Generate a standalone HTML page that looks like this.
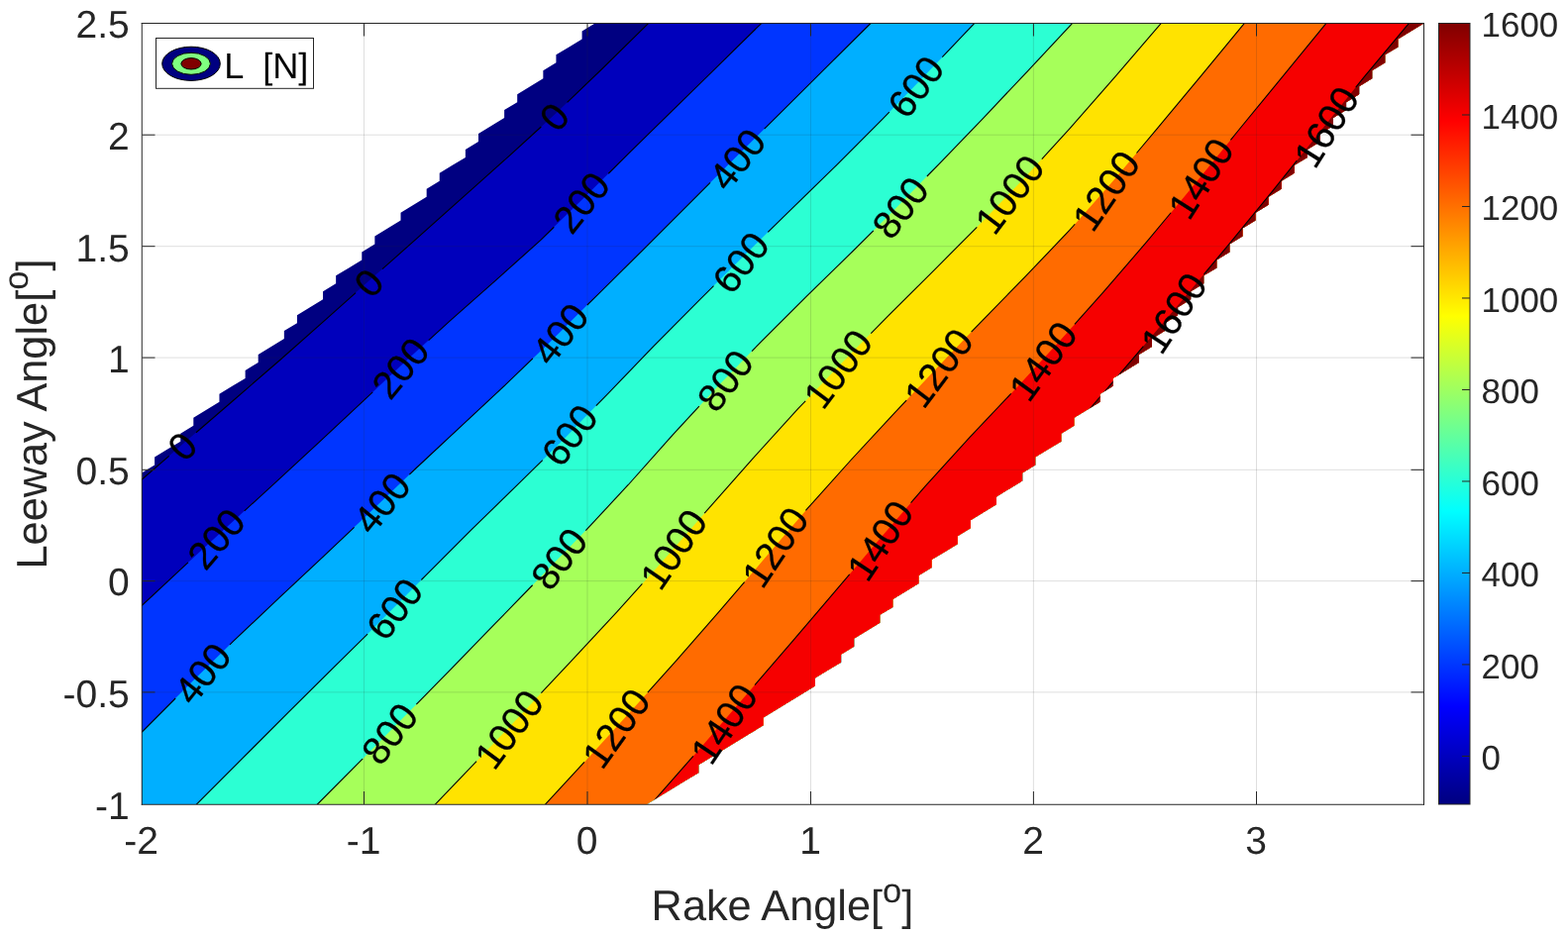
<!DOCTYPE html>
<html lang="en"><head><meta charset="utf-8"><title>L [N] contour</title>
<style>html,body{margin:0;padding:0;background:#fff;}body{width:1583px;height:945px;overflow:hidden;}svg{display:block;}</style></head>
<body>
<svg width="1583" height="945" viewBox="0 0 1583 945" font-family='"Liberation Sans", sans-serif' text-rendering="geometricPrecision">
<rect x="0" y="0" width="1583" height="945" fill="#fff"/>
<defs>
<clipPath id="valid"><polygon points="143.00,812.00 143.00,477.48 156.08,469.52 156.08,461.56 169.15,453.59 182.23,445.63 182.23,437.66 195.30,429.70 195.30,421.73 208.38,413.77 221.45,405.80 221.45,397.84 234.53,389.87 247.61,381.91 247.61,373.94 260.68,365.98 260.68,358.02 273.76,350.05 286.83,342.09 286.83,334.12 299.91,326.16 299.91,318.19 312.98,310.23 326.06,302.26 326.06,294.30 339.14,286.33 339.14,278.37 352.21,270.40 365.29,262.44 365.29,254.47 378.36,246.51 378.36,238.55 391.44,230.58 404.52,222.62 404.52,214.65 417.59,206.69 430.67,198.72 430.67,190.76 443.74,182.79 443.74,174.83 456.82,166.86 469.89,158.90 469.89,150.93 482.97,142.97 482.97,135.01 496.05,127.04 509.12,119.08 509.12,111.11 522.20,103.15 522.20,95.18 535.27,87.22 548.35,79.25 548.35,71.29 561.42,63.32 561.42,55.36 574.50,47.39 587.58,39.43 587.58,31.46 600.65,23.50 1437.50,23.50 1424.42,31.46 1411.35,39.43 1411.35,47.39 1398.27,55.36 1398.27,63.32 1385.20,71.29 1385.20,79.25 1372.12,87.22 1372.12,95.18 1359.05,103.15 1359.05,111.11 1345.97,119.08 1345.97,127.04 1332.89,135.01 1332.89,142.97 1319.82,150.93 1319.82,158.90 1306.74,166.86 1306.74,174.83 1293.67,182.79 1293.67,190.76 1280.59,198.72 1280.59,206.69 1267.52,214.65 1267.52,222.62 1254.44,230.58 1254.44,238.55 1241.36,246.51 1241.36,254.47 1228.29,262.44 1228.29,270.40 1215.21,278.37 1215.21,286.33 1202.14,294.30 1202.14,302.26 1189.06,310.23 1189.06,318.19 1175.98,326.16 1175.98,334.12 1162.91,342.09 1162.91,350.05 1149.83,358.02 1149.83,365.98 1136.76,373.94 1123.68,381.91 1123.68,389.87 1110.61,397.84 1110.61,405.80 1097.53,413.77 1084.45,421.73 1084.45,429.70 1071.38,437.66 1071.38,445.63 1058.30,453.59 1045.23,461.56 1045.23,469.52 1032.15,477.48 1032.15,485.45 1019.08,493.41 1006.00,501.38 1006.00,509.34 992.92,517.31 979.85,525.27 979.85,533.24 966.77,541.20 966.77,549.17 953.70,557.13 940.62,565.10 940.62,573.06 927.55,581.03 927.55,588.99 914.47,596.95 901.39,604.92 901.39,612.88 888.32,620.85 888.32,628.81 875.24,636.78 862.17,644.74 862.17,652.71 849.09,660.67 849.09,668.64 836.02,676.60 822.94,684.57 822.94,692.53 809.86,700.49 796.79,708.46 783.71,716.42 770.64,724.39 770.64,732.35 757.56,740.32 744.48,748.28 731.41,756.25 718.33,764.21 705.26,772.18 705.26,780.14 692.18,788.11 679.11,796.07 666.03,804.04 652.95,812.00"/></clipPath>
<linearGradient id="jet" x1="0" y1="1" x2="0" y2="0">
<stop offset="0" stop-color="#000080"/>
<stop offset="0.125" stop-color="#0000ff"/>
<stop offset="0.375" stop-color="#00ffff"/>
<stop offset="0.625" stop-color="#ffff00"/>
<stop offset="0.875" stop-color="#ff0000"/>
<stop offset="1" stop-color="#800000"/>
</linearGradient>
</defs>
<g clip-path="url(#valid)" shape-rendering="geometricPrecision">
<rect x="143.5" y="23.5" width="1294.0" height="788.5" fill="#000081"/>
<polygon points="97.91,523.23 143.30,483.99 189.75,443.83 236.21,403.78 282.66,363.48 329.12,322.33 375.57,280.85 422.03,239.66 468.48,198.04 514.94,156.70 561.39,114.21 607.85,69.49 654.30,23.80 697.07,-18.28 2000.00,-18.28 2000.00,1200.00 97.91,1200.00" fill="#0000bc"/>
<polygon points="99.35,652.07 143.30,611.23 187.97,569.72 232.64,528.73 277.31,487.84 321.99,446.58 366.66,404.96 411.33,362.97 456.00,322.34 500.67,282.90 545.34,242.85 590.01,199.34 634.69,154.91 679.36,111.15 724.03,67.37 768.70,23.52 811.52,-18.51 2000.00,-18.51 2000.00,1200.00 99.35,1200.00" fill="#0035ff"/>
<polygon points="101.01,781.63 143.30,739.07 189.28,692.80 235.26,647.70 281.24,604.16 327.23,561.12 373.21,517.55 419.19,473.49 465.17,430.64 511.15,387.72 557.13,343.42 603.11,297.80 649.09,252.32 695.08,206.29 741.06,160.46 787.04,114.86 833.02,69.20 879.00,23.51 921.56,-18.78 2000.00,-18.78 2000.00,1200.00 101.01,1200.00" fill="#00afff"/>
<polygon points="156.22,854.33 198.60,811.85 244.76,765.58 290.93,719.48 337.09,673.73 383.26,628.09 429.42,581.39 475.59,535.15 521.75,490.08 567.92,444.66 614.08,397.02 660.25,349.09 706.41,302.57 752.58,256.66 798.74,211.35 844.91,166.38 891.07,120.15 937.24,72.39 983.40,23.98 1024.81,-19.44 2000.00,-19.44 2000.00,1200.00 156.22,1200.00" fill="#2cffd3"/>
<polygon points="278.17,854.53 320.50,812.00 365.32,766.97 410.15,721.60 454.97,675.95 499.79,629.71 544.62,583.57 589.44,537.55 634.26,489.50 679.09,439.20 723.91,390.65 768.74,344.54 813.56,299.89 858.38,256.20 903.21,211.53 948.03,165.51 992.85,119.01 1037.68,71.57 1082.50,23.64 1123.48,-20.18 2000.00,-20.18 2000.00,1200.00 278.17,1200.00" fill="#a6ff5a"/>
<polygon points="397.84,855.37 439.40,812.10 485.18,764.44 530.96,716.18 576.74,667.37 622.52,618.17 668.31,567.37 714.09,514.89 759.87,463.04 805.65,412.72 851.43,364.70 897.21,318.37 942.99,272.81 988.78,226.85 1034.56,179.36 1080.34,129.36 1126.12,77.15 1171.90,23.83 1210.99,-21.69 2000.00,-21.69 2000.00,1200.00 397.84,1200.00" fill="#ffe300"/>
<polygon points="509.76,856.16 550.50,812.11 594.61,764.42 638.71,716.09 682.82,666.92 726.92,616.45 771.03,564.85 815.14,513.46 859.24,464.25 903.35,416.57 947.46,369.65 991.56,323.76 1035.67,278.69 1079.78,232.44 1123.88,182.54 1167.99,130.16 1212.09,77.09 1256.20,23.63 1294.39,-22.65 2000.00,-22.65 2000.00,1200.00 509.76,1200.00" fill="#ff6b00"/>
<polygon points="624.14,849.43 663.80,804.41 708.81,753.32 753.83,701.03 798.84,648.77 843.85,596.05 888.87,543.24 933.88,491.16 978.89,441.54 1023.91,394.06 1068.92,345.33 1113.93,294.97 1158.95,242.66 1203.96,188.49 1248.97,133.25 1293.99,78.28 1339.00,23.46 1377.07,-22.91 2000.00,-22.91 2000.00,1200.00 624.14,1200.00" fill="#f60000"/>
<polygon points="1062.83,456.29 1101.90,410.76 1147.76,357.32 1193.61,303.07 1239.47,248.09 1285.33,192.17 1331.19,134.84 1377.04,77.82 1422.90,22.88 1461.35,-23.18 2000.00,-23.18 2000.00,1200.00 1062.83,1200.00" fill="#800000"/>
<polyline points="120.61,503.61 143.30,483.99 189.75,443.83 236.21,403.78 282.66,363.48 329.12,322.33 375.57,280.85 422.03,239.66 468.48,198.04 514.94,156.70 561.39,114.21 607.85,69.49 654.30,23.80 675.69,2.76" fill="none" stroke="#000" stroke-width="1.1" stroke-dasharray="66.20 36.00 214.26 36.00 215.29 36.00 154.07 0.00"/>
<polyline points="121.32,631.65 143.30,611.23 187.97,569.72 232.64,528.73 277.31,487.84 321.99,446.58 366.66,404.96 411.33,362.97 456.00,322.34 500.67,282.90 545.34,242.85 590.01,199.34 634.69,154.91 679.36,111.15 724.03,67.37 768.70,23.52 790.11,2.50" fill="none" stroke="#000" stroke-width="1.1" stroke-dasharray="93.64 77.00 176.55 77.00 170.63 77.00 256.53 0.00"/>
<polyline points="122.15,760.35 143.30,739.07 189.28,692.80 235.26,647.70 281.24,604.16 327.23,561.12 373.21,517.55 419.19,473.49 465.17,430.64 511.15,387.72 557.13,343.42 603.11,297.80 649.09,252.32 695.08,206.29 741.06,160.46 787.04,114.86 833.02,69.20 879.00,23.51 900.28,2.36" fill="none" stroke="#000" stroke-width="1.1" stroke-dasharray="78.05 77.00 172.76 77.00 171.05 77.00 175.20 77.00 191.31 0.00"/>
<polyline points="177.41,833.09 198.60,811.85 244.76,765.58 290.93,719.48 337.09,673.73 383.26,628.09 429.42,581.39 475.59,535.15 521.75,490.08 567.92,444.66 614.08,397.02 660.25,349.09 706.41,302.57 752.58,256.66 798.74,211.35 844.91,166.38 891.07,120.15 937.24,72.39 983.40,23.98 1004.10,2.27" fill="none" stroke="#000" stroke-width="1.1" stroke-dasharray="273.41 77.00 172.07 77.00 169.62 77.00 172.45 77.00 86.58 0.00"/>
<polyline points="299.34,833.26 320.50,812.00 365.32,766.97 410.15,721.60 454.97,675.95 499.79,629.71 544.62,583.57 589.44,537.55 634.26,489.50 679.09,439.20 723.91,390.65 768.74,344.54 813.56,299.89 858.38,256.20 903.21,211.53 948.03,165.51 992.85,119.01 1037.68,71.57 1082.50,23.64 1102.99,1.73" fill="none" stroke="#000" stroke-width="1.1" stroke-dasharray="94.84 77.00 168.17 77.00 169.80 77.00 172.86 77.00 252.92 0.00"/>
<polyline points="418.62,833.74 439.40,812.10 485.18,764.44 530.96,716.18 576.74,667.37 622.52,618.17 668.31,567.37 714.09,514.89 759.87,463.04 805.65,412.72 851.43,364.70 897.21,318.37 942.99,272.81 988.78,226.85 1034.56,179.36 1080.34,129.36 1126.12,77.15 1171.90,23.83 1191.44,1.07" fill="none" stroke="#000" stroke-width="1.1" stroke-dasharray="90.17 95.00 150.23 95.00 152.53 95.00 151.44 95.00 222.00 0.00"/>
<polyline points="530.13,834.13 550.50,812.11 594.61,764.42 638.71,716.09 682.82,666.92 726.92,616.45 771.03,564.85 815.14,513.46 859.24,464.25 903.35,416.57 947.46,369.65 991.56,323.76 1035.67,278.69 1079.78,232.44 1123.88,182.54 1167.99,130.16 1212.09,77.09 1256.20,23.63 1275.29,0.49" fill="none" stroke="#000" stroke-width="1.1" stroke-dasharray="88.10 95.00 148.36 95.00 150.89 95.00 151.03 95.00 210.13 0.00"/>
<polyline points="643.97,826.92 663.80,804.41 708.81,753.32 753.83,701.03 798.84,648.77 843.85,596.05 888.87,543.24 933.88,491.16 978.89,441.54 1023.91,394.06 1068.92,345.33 1113.93,294.97 1158.95,242.66 1203.96,188.49 1248.97,133.25 1293.99,78.28 1339.00,23.46 1358.04,0.27" fill="none" stroke="#000" stroke-width="1.1" stroke-dasharray="84.60 95.00 147.11 95.00 149.70 95.00 148.81 95.00 192.38 0.00"/>
<polyline points="1082.36,433.53 1101.90,410.76 1147.76,357.32 1193.61,303.07 1239.47,248.09 1285.33,192.17 1331.19,134.84 1377.04,77.82 1422.90,22.88 1442.12,-0.15" fill="none" stroke="#000" stroke-width="1.1" stroke-dasharray="110.61 95.00 148.13 95.00 124.77 0.00"/>
</g>
<g font-size="39.0" fill="#000" stroke="#000" stroke-width="0.3" text-anchor="middle">
<text transform="translate(559.30,117.65) rotate(-49.50)" x="0" y="13.96">0</text>
<text transform="translate(372.20,285.39) rotate(-48.82)" x="0" y="13.96">0</text>
<text transform="translate(184.00,450.34) rotate(-47.90)" x="0" y="13.96">0</text>
<text transform="translate(586.60,204.17) rotate(-51.27)" x="0" y="13.96">200</text>
<text transform="translate(404.00,371.38) rotate(-50.27)" x="0" y="13.96">200</text>
<text transform="translate(218.00,543.69) rotate(-49.59)" x="0" y="13.96">200</text>
<text transform="translate(744.00,160.55) rotate(-51.77)" x="0" y="13.96">400</text>
<text transform="translate(565.20,336.92) rotate(-51.78)" x="0" y="13.96">400</text>
<text transform="translate(385.20,507.57) rotate(-50.81)" x="0" y="13.96">400</text>
<text transform="translate(204.20,679.67) rotate(-51.46)" x="0" y="13.96">400</text>
<text transform="translate(924.30,87.27) rotate(-52.94)" x="0" y="13.96">600</text>
<text transform="translate(747.50,264.81) rotate(-51.84)" x="0" y="13.96">600</text>
<text transform="translate(574.70,439.15) rotate(-52.88)" x="0" y="13.96">600</text>
<text transform="translate(398.00,614.67) rotate(-52.32)" x="0" y="13.96">600</text>
<text transform="translate(908.70,209.38) rotate(-52.73)" x="0" y="13.96">800</text>
<text transform="translate(731.90,383.92) rotate(-52.78)" x="0" y="13.96">800</text>
<text transform="translate(564.20,563.96) rotate(-52.73)" x="0" y="13.96">800</text>
<text transform="translate(393.00,740.45) rotate(-52.33)" x="0" y="13.96">800</text>
<text transform="translate(1019.00,195.99) rotate(-53.02)" x="0" y="13.96">1000</text>
<text transform="translate(845.70,372.20) rotate(-53.32)" x="0" y="13.96">1000</text>
<text transform="translate(679.70,554.27) rotate(-55.73)" x="0" y="13.96">1000</text>
<text transform="translate(513.50,736.07) rotate(-53.46)" x="0" y="13.96">1000</text>
<text transform="translate(1116.40,192.46) rotate(-55.38)" x="0" y="13.96">1200</text>
<text transform="translate(947.40,371.20) rotate(-53.10)" x="0" y="13.96">1200</text>
<text transform="translate(782.20,552.29) rotate(-56.16)" x="0" y="13.96">1200</text>
<text transform="translate(621.70,735.00) rotate(-54.52)" x="0" y="13.96">1200</text>
<text transform="translate(1212.10,179.93) rotate(-57.52)" x="0" y="13.96">1400</text>
<text transform="translate(1052.70,364.37) rotate(-54.19)" x="0" y="13.96">1400</text>
<text transform="translate(888.20,545.47) rotate(-56.34)" x="0" y="13.96">1400</text>
<text transform="translate(730.70,730.55) rotate(-56.07)" x="0" y="13.96">1400</text>
<text transform="translate(1338.70,127.83) rotate(-57.86)" x="0" y="13.96">1600</text>
<text transform="translate(1184.70,315.86) rotate(-56.56)" x="0" y="13.96">1600</text>
</g>
<g stroke="#262626" stroke-opacity="0.15" stroke-width="1">
<line x1="367.50" y1="23.5" x2="367.50" y2="812.0"/>
<line x1="593.00" y1="23.5" x2="593.00" y2="812.0"/>
<line x1="818.50" y1="23.5" x2="818.50" y2="812.0"/>
<line x1="1043.40" y1="23.5" x2="1043.40" y2="812.0"/>
<line x1="1268.50" y1="23.5" x2="1268.50" y2="812.0"/>
<line x1="143.5" y1="698.90" x2="1437.5" y2="698.90"/>
<line x1="143.5" y1="586.60" x2="1437.5" y2="586.60"/>
<line x1="143.5" y1="474.30" x2="1437.5" y2="474.30"/>
<line x1="143.5" y1="361.10" x2="1437.5" y2="361.10"/>
<line x1="143.5" y1="248.70" x2="1437.5" y2="248.70"/>
<line x1="143.5" y1="136.20" x2="1437.5" y2="136.20"/>
</g>
<g stroke="#262626" stroke-width="1" fill="none">
<path d="M143.25,23.0 V812.75 M1437.5,23.0 V812.75 M142.75,23.5 H1438.0 M142.75,812.25 H1438.0"/>
<line x1="367.50" y1="812.0" x2="367.50" y2="799.0"/>
<line x1="367.50" y1="23.5" x2="367.50" y2="36.5"/>
<line x1="593.00" y1="812.0" x2="593.00" y2="799.0"/>
<line x1="593.00" y1="23.5" x2="593.00" y2="36.5"/>
<line x1="818.50" y1="812.0" x2="818.50" y2="799.0"/>
<line x1="818.50" y1="23.5" x2="818.50" y2="36.5"/>
<line x1="1043.40" y1="812.0" x2="1043.40" y2="799.0"/>
<line x1="1043.40" y1="23.5" x2="1043.40" y2="36.5"/>
<line x1="1268.50" y1="812.0" x2="1268.50" y2="799.0"/>
<line x1="1268.50" y1="23.5" x2="1268.50" y2="36.5"/>
<line x1="143.5" y1="698.90" x2="156.5" y2="698.90"/>
<line x1="1437.5" y1="698.90" x2="1424.5" y2="698.90"/>
<line x1="143.5" y1="586.60" x2="156.5" y2="586.60"/>
<line x1="1437.5" y1="586.60" x2="1424.5" y2="586.60"/>
<line x1="143.5" y1="474.30" x2="156.5" y2="474.30"/>
<line x1="1437.5" y1="474.30" x2="1424.5" y2="474.30"/>
<line x1="143.5" y1="361.10" x2="156.5" y2="361.10"/>
<line x1="1437.5" y1="361.10" x2="1424.5" y2="361.10"/>
<line x1="143.5" y1="248.70" x2="156.5" y2="248.70"/>
<line x1="1437.5" y1="248.70" x2="1424.5" y2="248.70"/>
<line x1="143.5" y1="136.20" x2="156.5" y2="136.20"/>
<line x1="1437.5" y1="136.20" x2="1424.5" y2="136.20"/>
</g>
<g font-size="39.0" fill="#262626">
<text x="142.60" y="861.7" text-anchor="middle">-2</text>
<text x="367.10" y="861.7" text-anchor="middle">-1</text>
<text x="592.60" y="861.7" text-anchor="middle">0</text>
<text x="818.10" y="861.7" text-anchor="middle">1</text>
<text x="1043.00" y="861.7" text-anchor="middle">2</text>
<text x="1268.10" y="861.7" text-anchor="middle">3</text>
<text x="130.8" y="826.80" text-anchor="end">-1</text>
<text x="130.8" y="713.70" text-anchor="end">-0.5</text>
<text x="130.8" y="601.40" text-anchor="end">0</text>
<text x="130.8" y="489.10" text-anchor="end">0.5</text>
<text x="130.8" y="375.90" text-anchor="end">1</text>
<text x="130.8" y="263.50" text-anchor="end">1.5</text>
<text x="130.8" y="151.00" text-anchor="end">2</text>
<text x="130.8" y="38.30" text-anchor="end">2.5</text>
</g>
<g font-size="43.3" fill="#262626">
<text x="790" y="929" text-anchor="middle">Rake Angle[<tspan font-size="34.64" dy="-18.5">o</tspan><tspan dy="18.5">]</tspan></text>
<text transform="translate(47,418) rotate(-90)" text-anchor="middle">Leeway Angle[<tspan font-size="34.64" dy="-19">o</tspan><tspan dy="19">]</tspan></text>
</g>
<rect x="1452.5" y="23.5" width="31.5" height="788.5" fill="url(#jet)" stroke="#262626" stroke-width="1"/>
<g stroke="#262626" stroke-width="1">
<line x1="1484.0" y1="763.44" x2="1476.0" y2="763.44"/>
<line x1="1484.0" y1="670.95" x2="1476.0" y2="670.95"/>
<line x1="1484.0" y1="578.46" x2="1476.0" y2="578.46"/>
<line x1="1484.0" y1="485.96" x2="1476.0" y2="485.96"/>
<line x1="1484.0" y1="393.47" x2="1476.0" y2="393.47"/>
<line x1="1484.0" y1="300.98" x2="1476.0" y2="300.98"/>
<line x1="1484.0" y1="208.49" x2="1476.0" y2="208.49"/>
<line x1="1484.0" y1="115.99" x2="1476.0" y2="115.99"/>
<line x1="1484.0" y1="23.50" x2="1476.0" y2="23.50"/>
</g>
<g font-size="34.9" fill="#262626">
<text x="1495.6" y="777.14">0</text>
<text x="1495.6" y="684.65">200</text>
<text x="1495.6" y="592.16">400</text>
<text x="1495.6" y="499.66">600</text>
<text x="1495.6" y="407.17">800</text>
<text x="1495.6" y="314.68">1000</text>
<text x="1495.6" y="222.19">1200</text>
<text x="1495.6" y="129.69">1400</text>
<text x="1495.6" y="37.20">1600</text>
</g>
<g>
<rect x="157.5" y="38.5" width="159" height="50.8" fill="#fff" stroke="#262626" stroke-width="1"/>
<ellipse cx="193" cy="64.3" rx="29.3" ry="17.1" fill="#000080" stroke="#000" stroke-width="1"/>
<ellipse cx="193" cy="64.3" rx="19.4" ry="11" fill="#80ff80" stroke="#000" stroke-width="1"/>
<ellipse cx="193" cy="64.3" rx="10.1" ry="5.7" fill="#800000" stroke="#000" stroke-width="1"/>
 <text x="226.3" y="79.0" font-size="36.2" fill="#000" xml:space="preserve">L  [N]</text>
</g>
</svg>
</body></html>
